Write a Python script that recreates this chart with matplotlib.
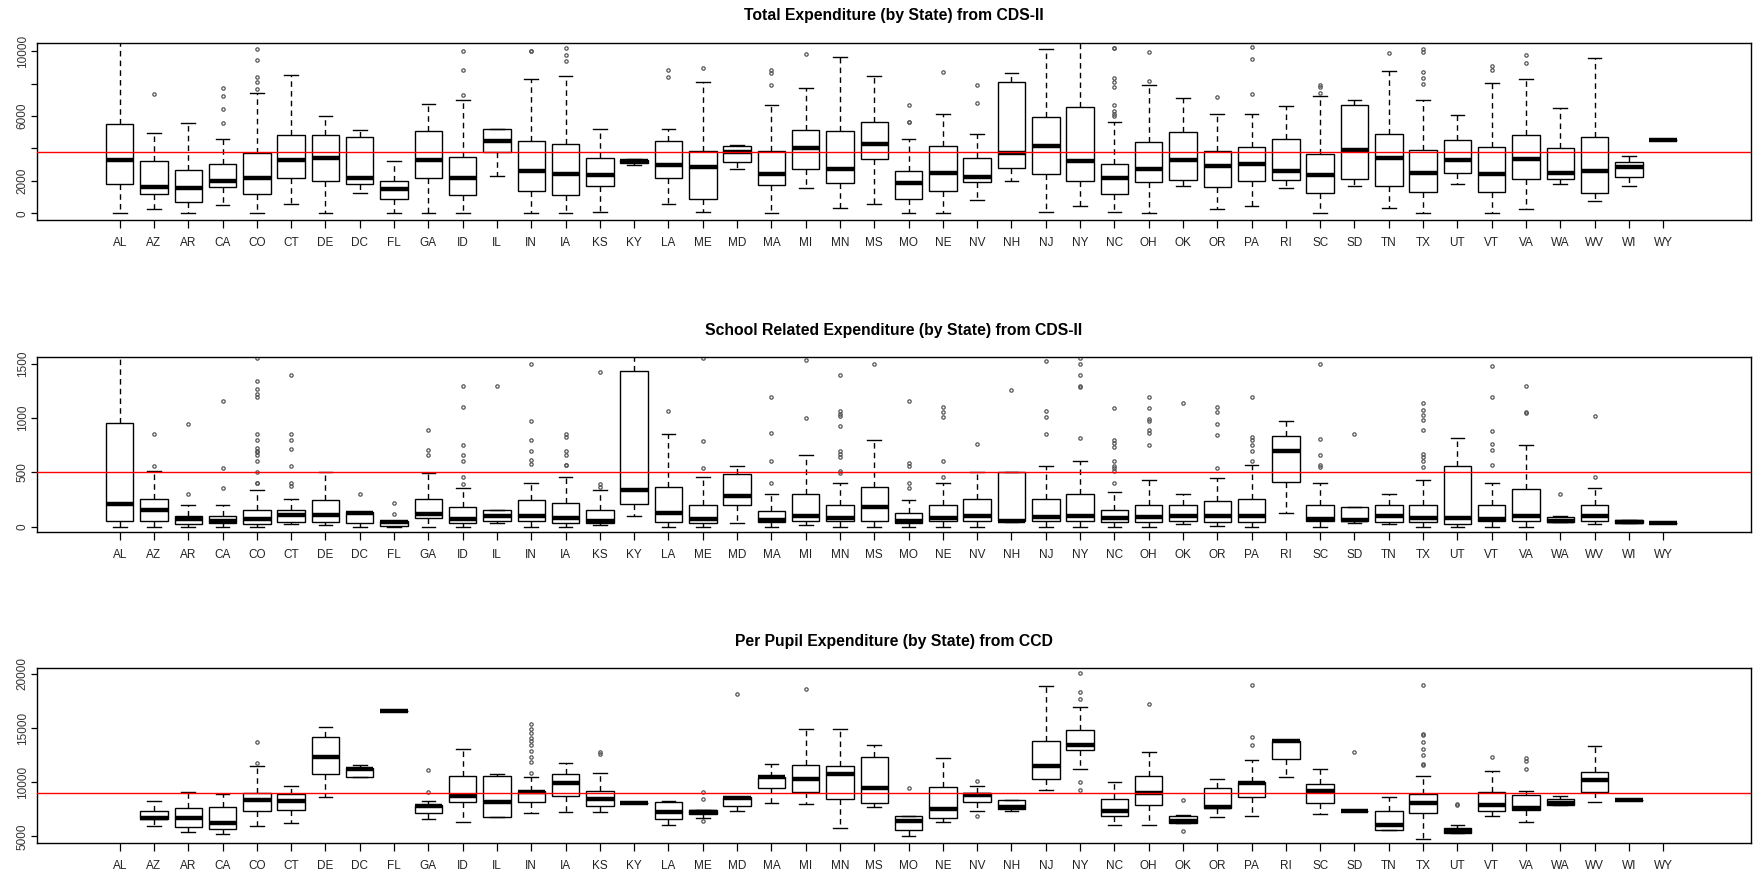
import matplotlib.pyplot as plt
import numpy as np

states = ['AL', 'AZ', 'AR', 'CA', 'CO', 'CT', 'DE', 'DC', 'FL', 'GA', 'ID', 'IL', 'IN', 'IA',
          'KS', 'KY', 'LA', 'ME', 'MD', 'MA', 'MI', 'MN', 'MS', 'MO', 'NE', 'NV', 'NH', 'NJ',
          'NY', 'NC', 'OH', 'OK', 'OR', 'PA', 'RI', 'SC', 'SD', 'TN', 'TX', 'UT', 'VT', 'VA',
          'WA', 'WV', 'WI', 'WY']

# ---- Total Expenditure (CDS-II) : lo, q1, med, q3, hi per state
tot_lo = [0, 290, 0, 520, 0, 600, 0, 1250, 0, 0, 0, 2290, 0, 0,
          80, 2990, 600, 80, 2740, 0, 1560, 350, 600, 0, 0, 810, 1990, 80,
          460, 80, 0, 1700, 290, 440, 1560, 0, 1700, 350, 0, 1790, 0, 290,
          1790, 750, 1700, 4530]
tot_q1 = [1790, 1180, 730, 1640, 1180, 2160, 1990, 1790, 870, 2160, 1120, 3780, 1390, 1120,
          1680, 3100, 2200, 870, 3180, 1770, 2740, 1850, 3340, 870, 1390, 1910, 2800, 2430,
          1990, 1180, 1910, 2060, 1620, 1990, 2060, 1250, 2140, 1700, 1330, 2510, 1330, 2140,
          2140, 1250, 2220, 4530]
tot_med = [3260, 1640, 1560, 2020, 2160, 3260, 3430, 2160, 1500, 3260, 2160, 4470, 2600, 2450,
           2390, 3200, 2970, 2850, 3780, 2450, 4010, 2740, 4300, 1850, 2510, 2220, 3720, 4150,
           3200, 2160, 2740, 3260, 2890, 3050, 2600, 2370, 3930, 3430, 2510, 3260, 2450, 3340,
           2510, 2600, 2830, 4530]
tot_q3 = [5500, 3200, 2680, 3050, 3740, 4840, 4840, 4690, 1990, 5050, 3490, 5210, 4470, 4300,
          3430, 3280, 4470, 3860, 4150, 3860, 5130, 5050, 5650, 2600, 4150, 3430, 8100, 5960,
          6540, 3050, 4380, 5030, 3860, 4090, 4610, 3640, 6690, 4900, 3930, 4550, 4090, 4840,
          4010, 4690, 3180, 4530]
tot_hi = [12000, 4960, 5570, 4610, 7440, 8540, 6000, 5130, 3200, 6770, 7000, 5210, 8250, 8470,
          5210, 3350, 5210, 8100, 4220, 6690, 7730, 9660, 8470, 4610, 6110, 4900, 8620, 10120,
          11500, 5650, 7930, 7120, 6150, 6150, 6600, 7210, 7000, 8770, 7000, 6090, 8020, 8250,
          6520, 9580, 3550, 4530]
tot_out = [[], [7350], [], [7730, 7210, 6420, 5590], [10120, 9430, 8390, 8080, 7690], [], [], [],
           [], [], [10010, 8830, 7310], [], [10010, 10010], [10180, 9740, 9370],
           [], [], [8810, 8410], [8930], [], [8830, 8620, 7890], [9820], [], [],
           [6690, 5650, 5600], [8700], [7890, 6830], [], [],
           [], [10220, 10180, 8330, 8080, 7790, 6670, 6300, 6150, 6000], [9970, 8180],
           [], [7190], [10260, 9490, 7350], [], [7930, 7790, 7420], [], [9890],
           [10160, 9970, 8700, 8330, 8000], [], [9080, 8830], [9740, 9280], [], [], [], []]

# ---- School Related Expenditure (CDS-II)
sch_lo = [0, 0, 0, 0, 0, 25, 16, 0, 0, 0, 0, 31, 0, 0,
          16, 103, 0, 0, 34, 0, 16, 0, 0, 0, 0, 0, 47, 0,
          0, 0, 0, 22, 9, 0, 122, 0, 34, 22, 0, 0, 0, 0,
          47, 22, 34, 34]
sch_q1 = [56, 56, 22, 31, 22, 47, 41, 31, 9, 78, 31, 56, 56, 31,
          31, 213, 47, 31, 203, 47, 56, 56, 56, 34, 56, 56, 53, 56,
          56, 41, 47, 56, 41, 41, 410, 56, 53, 41, 41, 22, 56, 56,
          47, 56, 34, 34]
sch_med = [207, 157, 72, 56, 69, 110, 106, 125, 47, 116, 69, 100, 100, 78,
           50, 335, 125, 72, 282, 63, 103, 85, 178, 56, 78, 103, 53, 94,
           103, 78, 91, 103, 103, 103, 698, 75, 66, 103, 78, 78, 75, 103,
           56, 103, 47, 34]
sch_q3 = [955, 257, 100, 100, 157, 157, 247, 135, 56, 257, 178, 157, 247, 222,
          157, 1437, 369, 203, 482, 147, 304, 203, 369, 125, 203, 257, 500, 257,
          304, 157, 203, 203, 235, 260, 839, 203, 178, 203, 203, 560, 203, 348,
          91, 203, 66, 34]
sch_hi = [1800, 513, 200, 200, 335, 257, 500, 135, 56, 498, 360, 157, 404, 460,
          335, 1800, 852, 460, 560, 304, 658, 404, 798, 247, 404, 500, 500, 560,
          604, 322, 435, 304, 448, 573, 974, 404, 178, 304, 435, 820, 404, 751,
          100, 360, 66, 34]
sch_out = [[], [852, 560], [942, 304], [1155, 538, 360],
           [1550, 1346, 1268, 1221, 1199, 852, 798, 726, 700, 689, 658, 601, 500, 407, 400],
           [1400, 852, 798, 717, 560, 407, 376], [], [304], [222, 116], [895, 704, 658],
           [1299, 1099, 751, 658, 601, 454, 398], [1299], [1500, 974, 798, 698, 611, 579],
           [852, 830, 698, 658, 570, 565],
           [1425, 391, 366], [], [1065], [1550, 786, 538], [], [1199, 867, 604, 404], [1537, 1002],
           [1400, 1065, 1040, 1020, 930, 698, 670, 642, 517, 491], [1503],
           [1158, 589, 557, 407, 360], [1105, 1058, 1011, 601, 460], [761], [1259],
           [1525, 1065, 1011, 852], [1556, 1503, 1400, 1293, 1290, 820],
           [1096, 798, 767, 736, 601, 557, 538, 517, 404], [1199, 1096, 993, 971, 892, 867, 751],
           [1143], [1102, 1055, 942, 842, 538], [1199, 830, 800, 751, 698, 601], [],
           [1503, 805, 658, 570, 548], [852], [], [1137, 1080, 1030, 980, 892, 673, 642, 601, 548],
           [], [1478, 1199, 883, 761, 704, 570], [1299, 1058, 1049], [304], [1018, 460], [], []]

# ---- Per Pupil Expenditure (CCD)  (None = no data)
ppe_lo = [None, 5990, 5430, 5220, 5990, 6240, 8660, 10440, 16550, 6580, 6340, 6770, 7110, 7270,
          7270, 8040, 6030, 6680, 7330, 8110, 7980, 5780, 7670, 5000, 6340, 7330, 7360, 9320,
          11240, 6030, 6030, 6270, 6770, 6890, 10440, 7020, 7300, 5560, 4780, 5340, 6890, 6340,
          7920, 8140, 8320, None]
ppe_q1 = [None, 6580, 5900, 5680, 7330, 7450, 10780, 10440, 16550, 7200, 8140, 6770, 8200, 8700,
          7760, 8040, 6580, 7080, 7760, 9440, 9070, 8420, 8040, 5560, 6680, 8140, 7550, 10310,
          13010, 6890, 7890, 6270, 7580, 8660, 12110, 8110, 7300, 5560, 7200, 5340, 7300, 7420,
          7920, 9070, 8320, None]
ppe_med = [None, 6680, 6680, 6240, 8320, 8260, 12360, 11180, 16550, 7760, 8700, 8140, 9130, 9910,
           8480, 8040, 7270, 7270, 8540, 10440, 10340, 10780, 9440, 6370, 7550, 8850, 7670, 11460,
           13450, 7360, 9010, 6460, 7730, 9970, 13790, 9220, 7300, 6030, 8040, 5530, 7920, 7640,
           8040, 10220, 8320, None]
ppe_q3 = [None, 7360, 7580, 7670, 9010, 8940, 14130, 11340, 16550, 7920, 10560, 10560, 9190, 10780,
          9220, 8040, 8200, 7420, 8660, 10470, 11580, 11460, 12360, 6890, 9570, 8980, 8350, 13790,
          14780, 8450, 10560, 6890, 9440, 10060, 13790, 9810, 7300, 7360, 8940, 5780, 9130, 8790,
          8450, 10900, 8320, None]
ppe_hi = [None, 8260, 9130, 8940, 11460, 9660, 15090, 11550, 16550, 8230, 13110, 10780, 10440, 11770,
          10870, 8040, 8290, 7420, 8660, 11650, 14910, 14910, 13450, 6890, 12240, 9690, 8350, 18880,
          16900, 10000, 12760, 6960, 10310, 12020, 13790, 11210, 7300, 8660, 10560, 6030, 10990, 9220,
          8760, 13320, 8320, None]
ppe_out = [[], [], [], [], [13700, 11770], [], [], [], [], [11120, 9130], [], [],
           [15340, 14900, 14500, 14100, 13800, 13400, 12900, 12300, 11870, 10870], [],
           [12800, 12580], [], [], [9130, 8450, 6430], [18110], [], [18570], [], [], [9440], [],
           [10090, 6890], [], [], [20100, 18320, 17670, 10000, 9320], [], [17240],
           [8320, 5470], [], [19010, 14130, 13420], [], [], [12760], [],
           [19010, 14410, 14350, 13730, 13110, 12490, 11650, 11600], [7950, 7920], [12330],
           [12240, 11960, 11240], [], [], [], []]

panels = [
    ('Total Expenditure (by State) from CDS-II', tot_lo, tot_q1, tot_med, tot_q3, tot_hi, tot_out,
     3780, (-436, 10530), [0, 2000, 4000, 6000, 8000, 10000], ['0', '2000', '', '6000', '', '10000']),
    ('School Related Expenditure (by State) from CDS-II', sch_lo, sch_q1, sch_med, sch_q3, sch_hi, sch_out,
     500, (-53, 1566), [0, 500, 1000, 1500], ['0', '500', '1000', '1500']),
    ('Per Pupil Expenditure (by State) from CCD', ppe_lo, ppe_q1, ppe_med, ppe_q3, ppe_hi, ppe_out,
     9000, (4348, 20560), [5000, 10000, 15000, 20000], ['5000', '10000', '15000', '20000']),
]

plt.rcParams['font.family'] = ['Liberation Sans', 'DejaVu Sans']

fig = plt.figure(figsize=(17.54, 8.8), dpi=100)
rects = [[0.0211, 0.7495, 0.977, 0.2022],
         [0.0211, 0.3949, 0.977, 0.1997],
         [0.0211, 0.0416, 0.977, 0.1995]]

for rect, (title, lo, q1, med, q3, hi, out, ref, ylim, yt, ytl) in zip(rects, panels):
    ax = fig.add_axes(rect)
    stats, pos = [], []
    for i in range(len(states)):
        if med[i] is None:
            continue
        stats.append(dict(whislo=lo[i], q1=q1[i], med=med[i], q3=q3[i], whishi=hi[i],
                          fliers=out[i]))
        pos.append(i + 1)
    ax.bxp(stats, positions=pos, widths=0.8, capwidths=0.4, patch_artist=True,
           boxprops=dict(facecolor='white', edgecolor='black', linewidth=1.0),
           medianprops=dict(color='black', linewidth=3.2, solid_capstyle='butt'),
           whiskerprops=dict(color='black', linewidth=1.0, linestyle=(0, (4, 3))),
           capprops=dict(color='black', linewidth=1.0),
           flierprops=dict(marker='o', markersize=2.4, markerfacecolor='none',
                           markeredgecolor='#555555', markeredgewidth=0.9))
    ax.axhline(ref, color='red', linewidth=1.0, zorder=5)
    ax.set_xlim(-1.41, 48.55)
    ax.set_ylim(*ylim)
    ax.set_xticks(np.arange(1, len(states) + 1))
    ax.set_xticklabels(states, fontsize=8.5, color='#222222')
    ax.set_yticks(yt)
    ax.set_yticklabels(ytl, rotation=90, va='center', fontsize=8.5, color='#333333')
    ax.tick_params(axis='x', length=6, width=0.9, pad=6)
    ax.tick_params(axis='y', length=4, width=0.9, pad=2)
    for s in ax.spines.values():
        s.set_linewidth(1.0)
    ax.set_title(title, fontsize=11.3, fontweight='bold', pad=16)

fig.savefig('out.png', dpi=100)
